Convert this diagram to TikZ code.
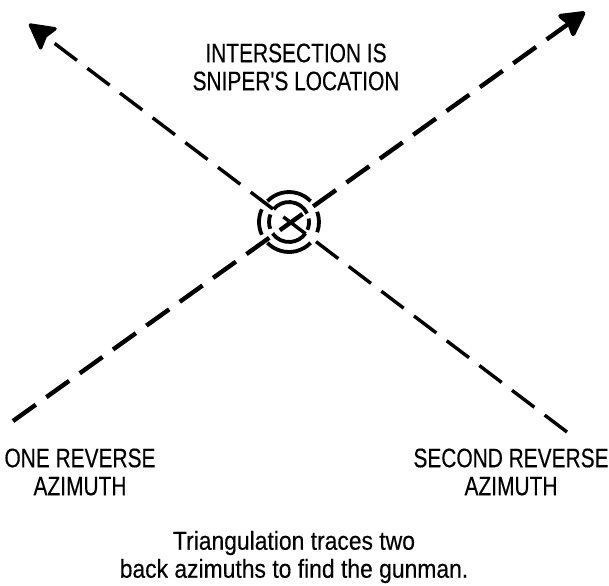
\documentclass[tikz,border=0pt]{standalone}
\usepackage{fontspec}
\setmainfont{Liberation Sans}
\newfontfamily\capsfont[FakeStretch=0.78,FakeBold=0.3]{Liberation Sans}
\newfontfamily\notefont[FakeStretch=0.88,FakeBold=0.3]{Liberation Sans}
\usetikzlibrary{arrows.meta,positioning}
\tikzset{
  azline/.style={line width=2.2pt,dash pattern=on 14pt off 6.5pt,
    -{Stealth[length=14pt,width=15pt,inset=2pt,round]}},
  azthin/.style={azline,line width=1.7pt},
  ring/.style={line width=1.9pt},
  label/.style={font=\capsfont\fontsize{13.4}{14}\selectfont,align=center,
    inner sep=0pt},
  caption/.style={font=\notefont\fontsize{13}{14}\selectfont,align=center,
    inner sep=0pt}
}

\begin{document}
\begin{tikzpicture}[x=0.5pt,y=-0.5pt]
  \useasboundingbox (0,0) rectangle (609,585);
  % where the two back azimuths cross
  \coordinate (x) at (289,222);
  \coordinate (oneend) at (13,421);
  \coordinate (onetip) at (585,12);
  \coordinate (secondend) at (567,432);
  \coordinate (secondtip) at (29,24);
  \draw[azline] (oneend) -- (onetip);
  \draw[azthin] (secondend) -- (secondtip);
  % target rings
  \draw[ring] ([shift={(25:10pt)}]x) arc[start angle=25,end angle=140,radius=10pt];
  \draw[ring] ([shift={(158:10pt)}]x) arc[start angle=158,end angle=200,radius=10pt];
  \draw[ring] ([shift={(215:10pt)}]x) arc[start angle=215,end angle=325,radius=10pt];
  \draw[ring] ([shift={(337:10pt)}]x) arc[start angle=337,end angle=370,radius=10pt];
  \draw[ring] ([shift={(44:15pt)}]x) arc[start angle=44,end angle=136,radius=15pt];
  \draw[ring] ([shift={(224:15pt)}]x) arc[start angle=224,end angle=316,radius=15pt];
  \draw[ring] ([shift={(155:15pt)}]x) arc[start angle=155,end angle=205,radius=15pt];
  \draw[ring] ([shift={(-20:15pt)}]x) arc[start angle=-20,end angle=20,radius=15pt];
  % texts
  \node[label] (sniper) at (296,67) {INTERSECTION IS\\SNIPER'S LOCATION};
  \node[label] (one) at (80,472) {ONE REVERSE\\AZIMUTH};
  \node[label] (second) at (511,472) {SECOND REVERSE\\AZIMUTH};
  \node[caption] (note) at (294,557) {Triangulation traces two\\back azimuths to find the gunman.};
\end{tikzpicture}
\end{document}
